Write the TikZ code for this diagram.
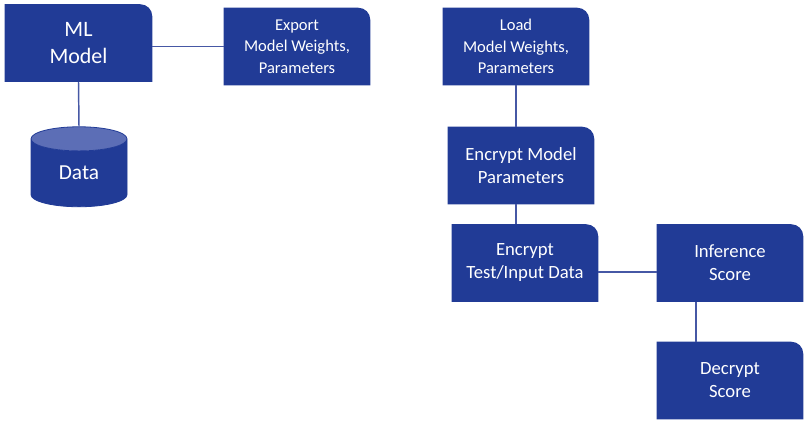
\documentclass[tikz,border=0pt]{standalone}
\usepackage{fontspec}
\setmainfont{Carlito}
\usetikzlibrary{shapes.geometric,backgrounds}

\definecolor{boxblue}{RGB}{33,59,150}
\definecolor{topblue}{RGB}{92,110,182}
\definecolor{lineblue}{RGB}{70,88,165}

\tikzset{
  flowbox/.style={minimum width=109.5pt, minimum height=57.75pt, inner sep=0pt,
    text=white, align=center, font=\fontsize{14}{17.25}\selectfont},
  smallbox/.style={flowbox, font=\fontsize{12.4}{16}\selectfont},
  link/.style={lineblue, line width=1.1pt}
}

\begin{document}
\begin{tikzpicture}[x=0.75pt, y=-0.75pt]
  \useasboundingbox (0,0) rectangle (805,422);

  % linke Seite
  \node[flowbox, minimum width=110.25pt, font=\fontsize{16.5}{20.25}\selectfont] (ml) at (78.5,43) {ML\\Model};
  \node[smallbox] (export) at (297,46.5) {Export\\Model Weights,\\Parameters};
  \node[cylinder, shape border rotate=90, shape aspect=0.6, draw=boxblue, line width=0.6pt,
    minimum width=72pt, minimum height=60pt, inner sep=0pt,
    cylinder uses custom fill, cylinder body fill=boxblue, cylinder end fill=topblue,
    text=white, font=\fontsize{16}{18}\selectfont] (data) at (79,173) {Data};

  % rechte Seite
  \node[smallbox] (load) at (516,46.5) {Load\\Model Weights,\\Parameters};
  \node[flowbox] (encm) at (521,165.5) {Encrypt Model\\Parameters};
  \node[flowbox] (enct) at (525,263) {Encrypt\\Test/Input Data};
  \node[flowbox] (inf) at (730,263) {Inference\\Score};
  \node[flowbox] (dec) at (730,380.5) {Decrypt\\Score};

  % Hintergrund der Boxen
  \begin{scope}[on background layer]
    \foreach \n in {ml,export,load,encm,enct,inf,dec}
      \fill[boxblue] (\n.south west) |- ([xshift=-9pt]\n.north east)
        arc[start angle=90, end angle=0, radius=9pt] |- (\n.south west) -- cycle;
  \end{scope}

  % Verbindungen
  \draw[link] (ml.east |- export.west) -- (export.west);
  \draw[link] (ml.south) -- (data.north);
  \draw[link] (load.south) -- (load.south |- encm.north);
  \draw[link] (load.south |- encm.south) -- (load.south |- enct.north);
  \draw[link] ([yshift=-6.75pt]enct.east) -- ([yshift=-6.75pt]inf.west);
  \draw[link] ([xshift=-25.5pt]inf.south) -- ([xshift=-25.5pt]inf.south |- dec.north);

\end{tikzpicture}
\end{document}
